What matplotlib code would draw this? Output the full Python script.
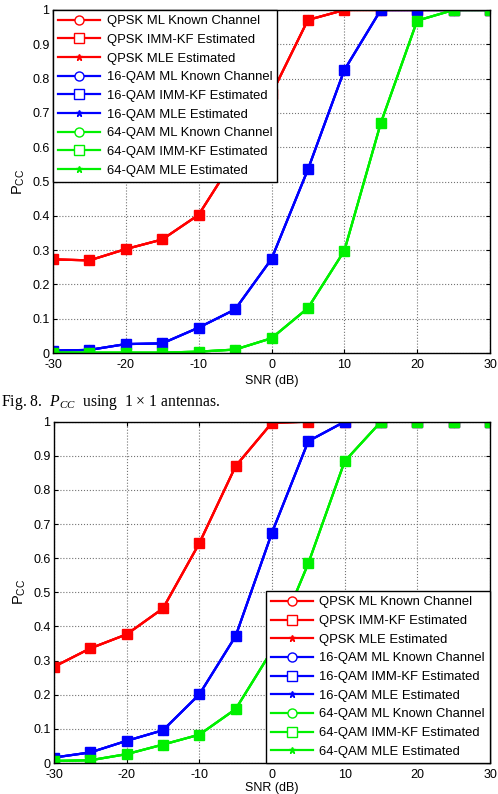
import matplotlib.pyplot as plt
from matplotlib.lines import Line2D

plt.rcParams['font.family'] = ['Liberation Sans', 'DejaVu Sans']
plt.rcParams['mathtext.fontset'] = 'custom'
plt.rcParams['mathtext.rm'] = 'Liberation Sans'
plt.rcParams['mathtext.it'] = 'Liberation Serif:italic'
plt.rcParams['axes.unicode_minus'] = False

snr = [-30, -25, -20, -15, -10, -5, 0, 5, 10, 15, 20, 25, 30]

# Fig. 8 (1x1 antennas)
qpsk_1x1 = [0.273, 0.270, 0.303, 0.331, 0.403, 0.57, 0.755, 0.971, 1, 1, 1, 1, 1]
qam16_1x1 = [0.007, 0.009, 0.026, 0.028, 0.074, 0.127, 0.274, 0.535, 0.825, 1, 1, 1, 1]
qam64_1x1 = [0.001, 0.001, 0.001, 0.001, 0.004, 0.010, 0.043, 0.131, 0.298, 0.670, 0.969, 1, 1]

# second figure
qpsk_2 = [0.282, 0.336, 0.377, 0.453, 0.644, 0.870, 0.997, 1, 1, 1, 1, 1, 1]
qam16_2 = [0.016, 0.031, 0.065, 0.096, 0.201, 0.372, 0.675, 0.943, 1, 1, 1, 1, 1]
qam64_2 = [0.006, 0.008, 0.026, 0.054, 0.083, 0.158, 0.33, 0.585, 0.884, 1, 1, 1, 1]

mods = ['QPSK', '16-QAM', '64-QAM']
methods = ['ML Known Channel', 'IMM-KF Estimated', 'MLE Estimated']
colors = ['#ff0000', '#0000ff', '#00f000']

fig = plt.figure(figsize=(4.98, 7.94), dpi=100)
ax1 = fig.add_axes([53/498, 1-353/794, 437/498, 343/794])
ax2 = fig.add_axes([54/498, 1-763/794, 436/498, 341.3/794])


def draw(ax, data, loc, xpad):
    for vals, c in zip(data, colors):
        ax.plot(snr, vals, '-', color=c, lw=1.6, marker='o', ms=7, mfc='none', mec=c)
        ax.plot(snr, vals, '-', color=c, lw=1.6, marker='*', ms=6)
        ax.plot(snr, vals, '-', color=c, lw=1.6, marker='s', ms=7.5, mfc=c, mec=c)
    ax.set_xlim(-30, 30)
    ax.set_ylim(0, 1)
    ax.set_xticks(range(-30, 31, 10))
    ax.set_yticks([i / 10 for i in range(11)])
    ax.set_yticklabels(['0'] + ['0.%d' % i for i in range(1, 10)] + ['1'])
    ax.tick_params(direction='in', top=True, right=True, labelsize=9, length=3, pad=2.5)
    ax.tick_params(axis='x', pad=4.5)
    ax.grid(True, color='0.45', linestyle=':', linewidth=0.8)
    ax.set_xlabel('SNR (dB)', fontsize=9, labelpad=xpad)
    ax.set_ylabel(r'P$_{\mathrm{CC}}$', fontsize=10.5, labelpad=4)
    for s in ax.spines.values():
        s.set_linewidth(1.0)

    handles = []
    labels = []
    for m, c in zip(mods, colors):
        for meth, mk in zip(methods, ['o', 's', '*']):
            handles.append(Line2D([], [], color=c, lw=1.6, marker=mk,
                                  ms=6.5 if mk != '*' else 5,
                                  mfc='white' if mk != '*' else c, mec=c))
            labels.append(m + ' ' + meth)
    leg = ax.legend(handles, labels, loc=loc, fontsize=9.4, fancybox=False,
                    framealpha=1, edgecolor='black', borderaxespad=0,
                    handlelength=3.2, handletextpad=0.5, labelspacing=0.5,
                    borderpad=0.4)
    leg.get_frame().set_linewidth(1.0)


draw(ax1, [qpsk_1x1, qam16_1x1, qam64_1x1], 'upper left', 3)
draw(ax2, [qpsk_2, qam16_2, qam64_2], 'lower right', 0.5)

fig.text(0.002, 1 - 403/794, 'Fig. 8.  $P_{CC}$  using  1 \u00d7 1 antennas.',
         family='Liberation Serif', fontsize=11.3, va='center', ha='left')

fig.savefig('out.png', dpi=100)
